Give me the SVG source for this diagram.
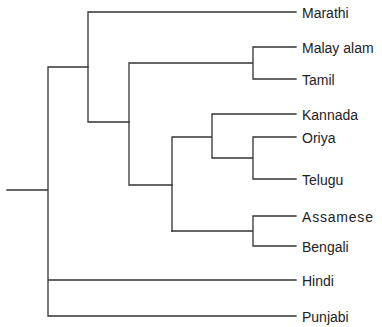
<svg xmlns="http://www.w3.org/2000/svg" width="382" height="327" viewBox="0 0 382 327">
<style>
.e{stroke:#333;stroke-width:1.3;fill:none;stroke-linecap:square}
.l{font-family:"Liberation Sans",Arial,sans-serif;font-size:14px;fill:#222}
</style>
<rect width="382" height="327" fill="#fff"/>
<g id="connectors">
<path class="e" d="M7,190H48M48,67V316M48,67H88M48,280H296M48,316H296"/>
<path class="e" d="M88,12V122M88,12H296M88,122H129"/>
<path class="e" d="M129,63V185M129,63H253M253,47V79M253,47H296M253,79H296M129,185H172"/>
<path class="e" d="M172,137V231M172,137H212M212,114V158M212,114H296M212,158H253M253,137V179M253,137H296M253,179H296"/>
<path class="e" d="M172,231H253M253,216V246M253,216H296M253,246H296"/>
</g>
<g id="n-marathi"><text class="l" x="302" y="18">Marathi</text></g>
<g id="n-malayalam"><text class="l" x="302" y="53">Malay alam</text></g>
<g id="n-tamil"><text class="l" x="302" y="85">Tamil</text></g>
<g id="n-kannada"><text class="l" x="302" y="120">Kannada</text></g>
<g id="n-oriya"><text class="l" x="302" y="143">Oriya</text></g>
<g id="n-telugu"><text class="l" x="302" y="185">Telugu</text></g>
<g id="n-assamese"><text class="l" x="302" y="222" letter-spacing="0.8">Assamese</text></g>
<g id="n-bengali"><text class="l" x="302" y="252">Bengali</text></g>
<g id="n-hindi"><text class="l" x="302" y="286">Hindi</text></g>
<g id="n-punjabi"><text class="l" x="302" y="322">Punjabi</text></g>
</svg>
